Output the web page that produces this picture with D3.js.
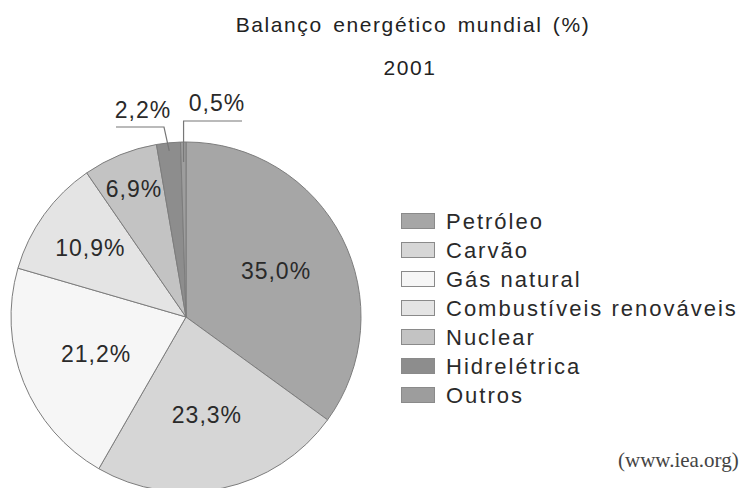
<!DOCTYPE html>
<html lang="pt">
<head>
<meta charset="utf-8">
<title>Balanço energético mundial</title>
<style>
  body { margin: 0; background: #fff; }
  svg text { font-family: "Liberation Sans", Arial, sans-serif; fill: #222; }
  .slice { stroke: #7d7d7d; stroke-width: 1; }
  .legend rect { stroke: #8a8a8a; stroke-width: 1; }
  .leader { fill: none; stroke: #777; stroke-width: 1.2; }
  .pct { font-size: 23px; letter-spacing: 1px; fill: #2a2a2a; }
</style>
</head>
<body>
<div id="chart"></div>
<script src="https://d3js.org/d3.v7.min.js"></script>
<script>
// data
var categories = ["Petróleo", "Carvão", "Gás natural", "Combustíveis renováveis", "Nuclear", "Hidrelétrica", "Outros"];
var shares = [35.0, 23.3, 21.2, 10.9, 6.9, 2.2, 0.5];
var shareLabels = ["35,0%", "23,3%", "21,2%", "10,9%", "6,9%", "2,2%", "0,5%"];
var colors = ["#a6a6a6", "#d6d6d6", "#f6f6f6", "#e4e4e4", "#c3c3c3", "#8d8d8d", "#9d9d9d"];

var width = 742, height = 488;
var cx = 186, cy = 317, radius = 175;

var svg = d3.select("#chart").append("svg")
    .attr("width", width)
    .attr("height", height);

// titles
svg.append("text")
    .attr("x", 413).attr("y", 32)
    .attr("text-anchor", "middle")
    .style("font-size", "21px")
    .style("letter-spacing", "1.6px")
    .style("word-spacing", "3px")
    .text("Balanço energético mundial (%)");

svg.append("text")
    .attr("x", 410).attr("y", 75)
    .attr("text-anchor", "middle")
    .style("font-size", "21px")
    .style("letter-spacing", "1.6px")
    .text("2001");

// pie
var pie = d3.pie().sort(null).value(function(d) { return d; });
var arcs = pie(shares);
var arc = d3.arc().innerRadius(0).outerRadius(radius);

var g = svg.append("g")
    .attr("transform", "translate(" + cx + "," + cy + ")");

g.selectAll(".slice")
  .data(arcs)
  .enter().append("path")
    .attr("class", "slice")
    .attr("d", arc)
    .attr("fill", function(d, i) { return colors[i]; });

// inside labels, radius picked per slice to match the layout
var labelR = [101, 100, 97, 118, 138];
g.selectAll(".inlabel")
  .data(arcs.slice(0, 5))
  .enter().append("text")
    .attr("class", "pct")
    .attr("text-anchor", "middle")
    .attr("dy", "0.36em")
    .attr("x", function(d, i) { var a = (d.startAngle + d.endAngle) / 2; return Math.sin(a) * labelR[i]; })
    .attr("y", function(d, i) { var a = (d.startAngle + d.endAngle) / 2; return -Math.cos(a) * labelR[i]; })
    .text(function(d, i) { return shareLabels[i]; });

// outside labels for the two thin slices
function edgePoint(d, r) {
  var a = (d.startAngle + d.endAngle) / 2;
  return [cx + Math.sin(a) * r, cy - Math.cos(a) * r];
}
var hydro = arcs[5], other = arcs[6];
var p1 = edgePoint(hydro, radius - 8);
svg.append("path").attr("class", "leader")
    .attr("d", d3.line()([[116, 127], [164, 127], p1]));
svg.append("text")
    .attr("class", "pct")
    .attr("x", 143).attr("y", 118)
    .attr("text-anchor", "middle")
    .text(shareLabels[5]);

var p2 = edgePoint(other, radius - 20);
svg.append("path").attr("class", "leader")
    .attr("d", d3.line()([p2, [p2[0], 121], [242, 121]]));
svg.append("text")
    .attr("class", "pct")
    .attr("x", 217).attr("y", 111)
    .attr("text-anchor", "middle")
    .text(shareLabels[6]);

// legend
var ly = d3.scaleBand().domain(categories).range([207, 410]);
var legend = svg.append("g").attr("class", "legend");
var item = legend.selectAll("g")
  .data(categories)
  .enter().append("g")
    .attr("transform", function(d) { return "translate(401," + ly(d) + ")"; });

item.append("rect")
    .attr("x", 0.5).attr("y", 6.5)
    .attr("width", 33).attr("height", 15)
    .attr("fill", function(d, i) { return colors[i]; });

item.append("text")
    .attr("x", 45).attr("y", 22)
    .style("font-size", "22px")
    .style("letter-spacing", "2px")
    .style("fill", "#2a2a2a")
    .text(function(d) { return d; });

// source
svg.append("text")
    .attr("x", 618).attr("y", 467)
    .style("font-family", "'Liberation Serif', 'Times New Roman', serif")
    .style("font-size", "21px")
    .style("fill", "#444")
    .text("(www.iea.org)");
</script>
</body>
</html>
